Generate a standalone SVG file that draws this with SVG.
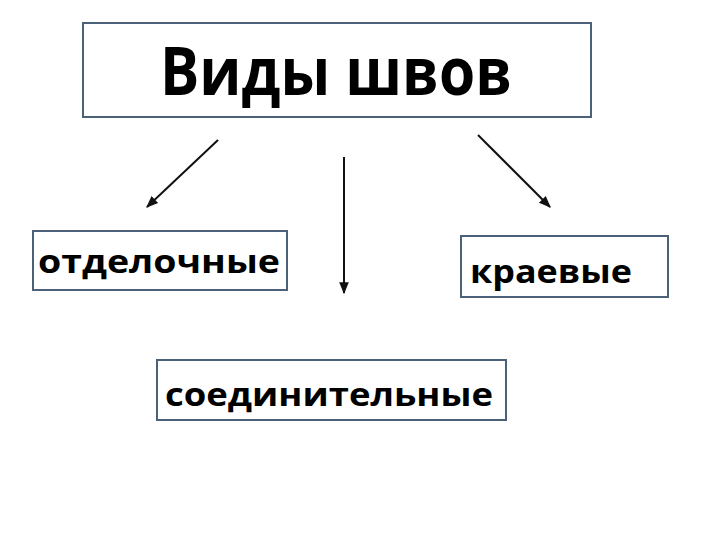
<svg xmlns="http://www.w3.org/2000/svg" width="720" height="540" viewBox="0 0 720 540">
<style>
.box{fill:#fff;stroke:#4a6178;stroke-width:2}
.t{font-family:"Open Sans","Liberation Sans","DejaVu Sans",sans-serif;font-weight:bold;fill:#000}
.c{stroke:#111;stroke-width:2;fill:none}
</style>
<defs>
<marker id="ah" viewBox="0 0 10 10" refX="9" refY="5" markerWidth="6" markerHeight="6" orient="auto" markerUnits="strokeWidth">
<path d="M0,1 L10,5 L0,9 Z" fill="#111"/>
</marker>
</defs>
<rect width="720" height="540" fill="#fff"/>
<g id="title">
<rect class="box" x="83" y="23" width="508" height="94"/>
<text class="t" x="336" y="95" font-size="66" text-anchor="middle" textLength="352" lengthAdjust="spacingAndGlyphs">Виды швов</text>
</g>
<g id="otdelochnye">
<rect class="box" x="33" y="231" width="254" height="59"/>
<text class="t" x="38" y="273" font-size="33" textLength="242" lengthAdjust="spacingAndGlyphs">отделочные</text>
</g>
<g id="kraevye">
<rect class="box" x="461" y="236" width="207" height="61"/>
<text class="t" x="470" y="283" font-size="33" textLength="162" lengthAdjust="spacingAndGlyphs">краевые</text>
</g>
<g id="soedinitelnye">
<rect class="box" x="157" y="360" width="349" height="60"/>
<text class="t" x="165" y="406" font-size="33" textLength="328" lengthAdjust="spacingAndGlyphs">соединительные</text>
</g>
<g id="connectors">
<line class="c" x1="218" y1="140" x2="147" y2="207" marker-end="url(#ah)"/>
<line class="c" x1="344" y1="157" x2="344" y2="293" marker-end="url(#ah)"/>
<line class="c" x1="478" y1="135" x2="550" y2="207" marker-end="url(#ah)"/>
</g>
</svg>
